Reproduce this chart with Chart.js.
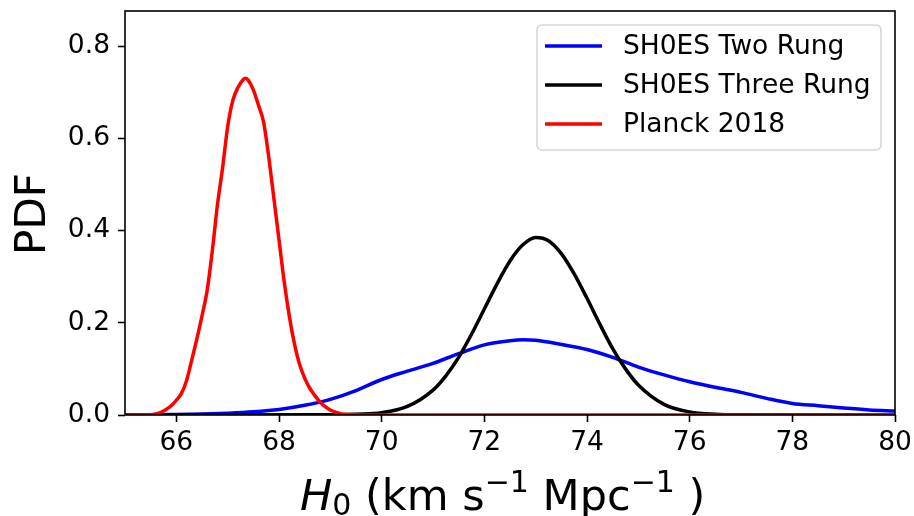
<!DOCTYPE html>
<html>
<head>
<meta charset="utf-8">
<script src="https://cdn.jsdelivr.net/npm/chart.js@4.4.1/dist/chart.umd.min.js"></script>
<style>
  html, body { margin: 0; padding: 0; background: #fff; }
  #wrap { width: 914px; height: 516px; }
</style>
</head>
<body>
<div id="wrap"><canvas id="pdfChart" width="914" height="516"></canvas></div>
<script>
// H0 posterior curves
const seriesLabels = ['SH0ES Two Rung', 'SH0ES Three Rung', 'Planck 2018'];
const seriesColors = ['#0000ff', '#000000', '#ff0000'];

const twoRungH0 = [65, 66, 66.5, 67, 67.5, 68, 68.5, 69, 69.5, 70, 70.5, 71, 71.5, 72, 72.5, 72.75, 73, 73.5, 74, 74.5, 75, 75.5, 76, 76.5, 77, 77.5, 78, 78.5, 79, 79.5, 80];
const twoRungPdf = [0.0003, 0.001, 0.002, 0.004, 0.007, 0.012, 0.021, 0.034, 0.053, 0.077, 0.095, 0.112, 0.133, 0.152, 0.161, 0.163, 0.162, 0.153, 0.142, 0.125, 0.104, 0.087, 0.072, 0.060, 0.049, 0.036, 0.025, 0.020, 0.015, 0.011, 0.0087];

const threeRungH0 = [65, 69, 69.5, 70, 70.5, 71, 71.25, 71.5, 71.75, 72, 72.25, 72.5, 72.75, 73, 73.25, 73.5, 73.75, 74, 74.25, 74.5, 74.75, 75, 75.5, 76, 76.5, 77, 80];
const threeRungPdf = [0, 0.0003, 0.0019, 0.005, 0.0185, 0.054, 0.085, 0.125, 0.175, 0.230, 0.285, 0.334, 0.369, 0.385, 0.378, 0.350, 0.306, 0.253, 0.197, 0.144, 0.100, 0.065, 0.023, 0.0066, 0.0015, 0.0003, 0];

const planckH0 = [65, 65.4, 65.6, 65.7, 65.8, 65.9, 66, 66.1, 66.2, 66.3, 66.4, 66.5, 66.6, 66.7, 66.8, 66.9, 67, 67.1, 67.2, 67.3, 67.35, 67.4, 67.5, 67.6, 67.7, 67.75, 67.8, 67.9, 68, 68.1, 68.2, 68.3, 68.4, 68.5, 68.6, 68.7, 68.8, 68.9, 69, 69.1, 69.2, 69.4, 69.6, 72, 76, 80];
const planckPdf = [0, 0, 0.002, 0.006, 0.012, 0.020, 0.032, 0.047, 0.075, 0.119, 0.165, 0.215, 0.27, 0.355, 0.455, 0.535, 0.625, 0.682, 0.71, 0.727, 0.730, 0.726, 0.705, 0.672, 0.635, 0.60, 0.56, 0.47, 0.38, 0.29, 0.215, 0.155, 0.11, 0.08, 0.058, 0.042, 0.028, 0.018, 0.011, 0.006, 0.003, 0.001, 0, 0, 0, 0];

const xTickValues = [66, 68, 70, 72, 74, 76, 78, 80];
const yTickValues = [0, 0.2, 0.4, 0.6, 0.8];

const toPoints = (xs, ys) => xs.map((x, i) => ({x: x, y: ys[i]}));

Chart.defaults.font.family = '"DejaVu Sans", sans-serif';
Chart.defaults.color = '#000';

// axes box drawn like a matplotlib frame
const framePlugin = {
    id: 'frame',
    afterDatasetsDraw(chart) {
        const {ctx, chartArea: a} = chart;
        ctx.save();
        ctx.strokeStyle = '#000';
        ctx.lineWidth = 1.6;
        ctx.strokeRect(a.left, a.top, a.right - a.left, a.bottom - a.top);
        ctx.restore();
    }
};

// legend box inside the axes, upper right
const legendPlugin = {
    id: 'innerLegend',
    afterDraw(chart) {
        const ctx = chart.ctx;
        const box = {x: 537, y: 25, w: 344, h: 125, r: 5};
        ctx.save();
        ctx.beginPath();
        ctx.roundRect(box.x, box.y, box.w, box.h, box.r);
        ctx.fillStyle = 'rgba(255,255,255,0.8)';
        ctx.fill();
        ctx.strokeStyle = '#d6d6d6';
        ctx.lineWidth = 1.6;
        ctx.stroke();
        ctx.font = '26.5px "DejaVu Sans"';
        ctx.textBaseline = 'middle';
        chart.data.datasets.forEach((ds, i) => {
            const rowY = 46 + i * 39;
            ctx.beginPath();
            ctx.moveTo(545, rowY);
            ctx.lineTo(602, rowY);
            ctx.strokeStyle = ds.borderColor;
            ctx.lineWidth = 3.5;
            ctx.stroke();
            ctx.fillStyle = '#000';
            ctx.fillText(ds.label, 623, rowY + 1);
        });
        ctx.restore();
    }
};

// axis labels with mathtext-like pieces
const axisLabelPlugin = {
    id: 'axisLabels',
    afterDraw(chart) {
        const ctx = chart.ctx;
        ctx.save();
        ctx.fillStyle = '#000';
        ctx.textBaseline = 'alphabetic';

        ctx.save();
        ctx.translate(45, 214);
        ctx.rotate(-Math.PI / 2);
        ctx.font = '42px "DejaVu Sans"';
        ctx.textAlign = 'center';
        ctx.fillText('PDF', 0, 0);
        ctx.restore();

        const pieces = [
            {t: 'H', font: 'italic 43px "DejaVu Sans"', dy: 0},
            {t: '0', font: '30px "DejaVu Sans"', dy: 5},
            {t: ' (km s', font: '43px "DejaVu Sans"', dy: 0},
            {t: '\u22121', font: '30px "DejaVu Sans"', dy: -18},
            {t: ' Mpc', font: '43px "DejaVu Sans"', dy: 0},
            {t: '\u22121', font: '30px "DejaVu Sans"', dy: -18},
            {t: ' )', font: '43px "DejaVu Sans"', dy: 0}
        ];
        let x = 300;
        const baseY = 510;
        ctx.textAlign = 'left';
        pieces.forEach(p => {
            ctx.font = p.font;
            ctx.fillText(p.t, x, baseY + p.dy);
            x += ctx.measureText(p.t).width;
        });
        ctx.restore();
    }
};

const ctx = document.getElementById('pdfChart').getContext('2d');
new Chart(ctx, {
    type: 'line',
    data: {
        datasets: [{
            label: seriesLabels[0],
            data: toPoints(twoRungH0, twoRungPdf),
            borderColor: seriesColors[0],
            order: 3
        }, {
            label: seriesLabels[1],
            data: toPoints(threeRungH0, threeRungPdf),
            borderColor: seriesColors[1],
            order: 2
        }, {
            label: seriesLabels[2],
            data: toPoints(planckH0, planckPdf),
            borderColor: seriesColors[2],
            order: 1
        }]
    },
    options: {
        responsive: false,
        animation: false,
        devicePixelRatio: 1,
        layout: {
            padding: {top: 11, right: 19, left: 0, bottom: 0}
        },
        elements: {
            line: {
                borderWidth: 3.5,
                cubicInterpolationMode: 'monotone',
                fill: false
            },
            point: {
                radius: 0
            }
        },
        plugins: {
            legend: {display: false},
            tooltip: {enabled: false}
        },
        scales: {
            x: {
                type: 'linear',
                min: 65,
                max: 80,
                border: {display: false},
                grid: {
                    drawOnChartArea: false,
                    drawTicks: true,
                    tickLength: 7,
                    tickWidth: 1.6,
                    color: '#000'
                },
                ticks: {
                    font: {size: 26.5},
                    padding: 5,
                    maxRotation: 0
                },
                afterBuildTicks(scale) {
                    scale.ticks = xTickValues.map(v => ({value: v}));
                },
                afterFit(scale) {
                    scale.height = 101;
                    scale.paddingLeft = 0;
                    scale.paddingRight = 0;
                }
            },
            y: {
                min: 0,
                max: 0.876,
                border: {display: false},
                grid: {
                    drawOnChartArea: false,
                    drawTicks: true,
                    tickLength: 7,
                    tickWidth: 1.6,
                    color: '#000'
                },
                ticks: {
                    font: {size: 26.5},
                    padding: 8,
                    callback: v => Number(v).toFixed(1)
                },
                afterBuildTicks(scale) {
                    scale.ticks = yTickValues.map(v => ({value: v}));
                },
                afterFit(scale) {
                    scale.width = 125;
                    scale.paddingTop = 0;
                    scale.paddingBottom = 0;
                }
            }
        }
    },
    plugins: [framePlugin, legendPlugin, axisLabelPlugin]
});
</script>
</body>
</html>
